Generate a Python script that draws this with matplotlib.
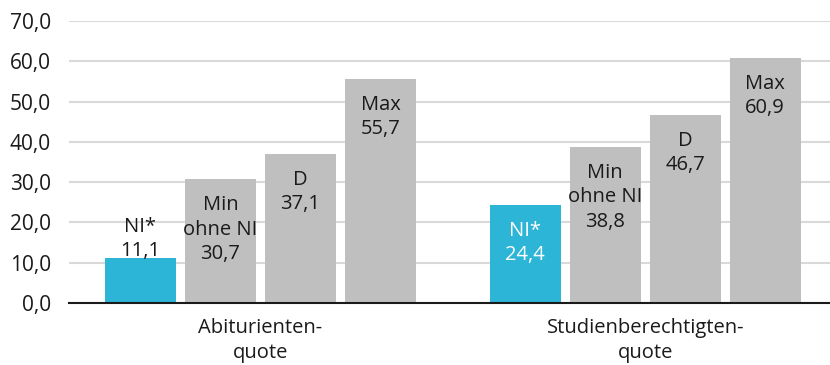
import matplotlib
matplotlib.use("Agg")
from matplotlib import pyplot as plt

plt.rcParams['font.family'] = ['Open Sans', 'DejaVu Sans']

groups = ["Abiturienten-\nquote", "Studienberechtigten-\nquote"]
names = ["NI*", "Min\nohne NI", "D", "Max"]
abitur = [11.1, 30.7, 37.1, 55.7]
studien = [24.4, 38.8, 46.7, 60.9]

cyan = "#2cb5d6"
grey = "#bfbfbf"
colors = [cyan, grey, grey, grey]

group_gap = 4.81
width = 0.89

fig = plt.figure(figsize=(8.3, 3.65), dpi=100)
ax = fig.add_axes([0.0831, 0.1699, 1 - 0.0831, 0.9425 - 0.1699])

for g, vals in enumerate([abitur, studien]):
    xs = [g * group_gap + i for i in range(len(vals))]
    ax.bar(xs, vals, width=width, color=colors, zorder=2)
    for i, (x, v) in enumerate(zip(xs, vals)):
        label = names[i] + "\n" + f"{v:.1f}".replace(".", ",")
        if i == 0 and g == 0:
            # short bar: label sits above it
            ax.annotate(label, (x, v), xytext=(0, -3), textcoords="offset pixels",
                        ha="center", va="bottom", fontsize=14.5, color="#1a1a1a",
                        linespacing=1.3, zorder=3)
        else:
            txtcol = "white" if i == 0 else "#1a1a1a"
            ax.annotate(label, (x, v), xytext=(0, -16), textcoords="offset pixels",
                        ha="center", va="top", fontsize=14.5, color=txtcol,
                        linespacing=1.3, zorder=3)

ax.set_ylim(0, 70)
ax.set_xlim(-0.894, 8.62)
ax.set_yticks(range(0, 71, 10))
ax.set_yticklabels([f"{t},0" for t in range(0, 71, 10)])
ax.set_xticks([1.5, group_gap + 1.5])
ax.set_xticklabels(groups, linespacing=1.3)

ax.grid(axis="y", color="#d9d9d9", linewidth=1.5, zorder=0)
ax.set_axisbelow(True)
for s in ["top", "right", "left"]:
    ax.spines[s].set_visible(False)
ax.spines["bottom"].set_color("#1a1a1a")
ax.spines["bottom"].set_linewidth(1.5)
ax.spines["bottom"].set_zorder(4)
ax.tick_params(axis="y", length=0, pad=13, labelsize=15, labelcolor="#1a1a1a")
ax.tick_params(axis="x", length=0, pad=11, labelsize=14.5, labelcolor="#1a1a1a")

fig.savefig("out.png", dpi=100)
